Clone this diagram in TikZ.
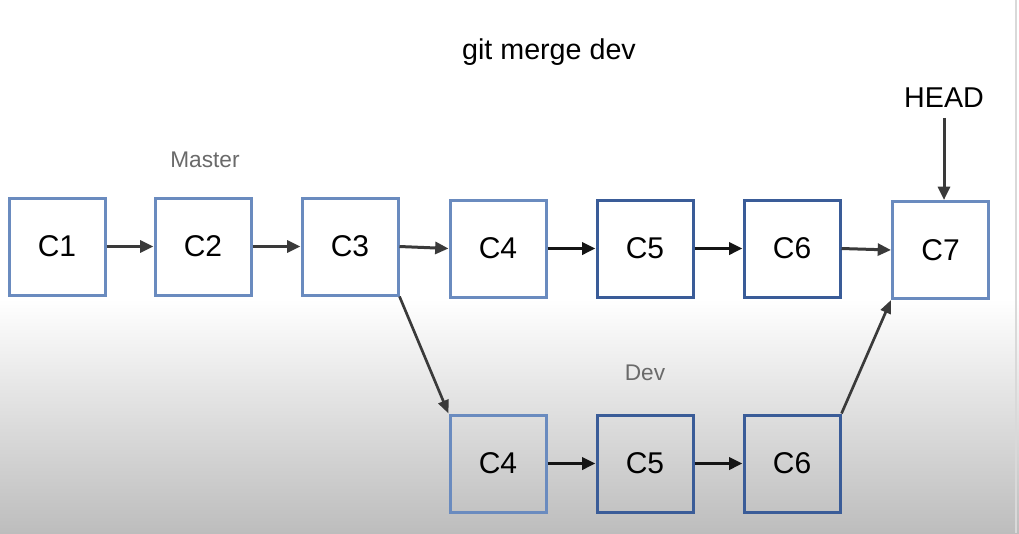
\documentclass[tikz,border=0pt]{standalone}
\usepackage{fontspec}
\setmainfont{Liberation Sans}
\usetikzlibrary{arrows.meta}
\definecolor{boxlight}{HTML}{6A8BBF}
\definecolor{boxdark}{HTML}{3A5C98}
\definecolor{arrgrey}{HTML}{3A3A3A}
\definecolor{arrdark}{HTML}{151515}
\definecolor{bgbot}{HTML}{BDBDBD}
\definecolor{labelgrey}{HTML}{6A6A6A}
\tikzset{
  commit/.style={draw, line width=2.25pt, minimum width=72pt, minimum height=72.75pt, inner sep=0pt, font=\fontsize{22.5pt}{24pt}\selectfont},
  lightc/.style={commit, draw=boxlight},
  darkc/.style={commit, draw=boxdark},
  link/.style={draw=arrgrey, line width=2.25pt, -{Triangle[length=10pt,width=9pt]}},
  linkdark/.style={draw=arrdark, line width=2.6pt, -{Triangle[length=10pt,width=9pt]}},
  diag/.style={draw=arrgrey, line width=2pt, -{Triangle[length=10pt,width=8pt]}},
  branch/.style={text=labelgrey, font=\fontsize{17pt}{20pt}\selectfont},
  title/.style={font=\fontsize{21.5pt}{24pt}\selectfont}
}
\begin{document}
\begin{tikzpicture}[x=0.75pt, y=-0.75pt]
\useasboundingbox (0,0) rectangle (1019,533);
\fill[white] (0,0) rectangle (1019,300);
\shade[top color=white, bottom color=bgbot] (0,299) rectangle (1019,533);
\draw[color=black!15, line width=1.5pt] (1016,0) -- (1016,533);

\node[title] (title) at (549,52) {git merge dev};
\node[title] (head) at (944,98) {HEAD};
\node[branch] (master) at (205,160) {Master};
\node[branch] (dev) at (645,373) {Dev};

\node[lightc, fill=white] (c1) at (57,246.5) {C1};
\node[lightc, fill=white] (c2) at (203,246.5) {C2};
\node[lightc, fill=white] (c3) at (350,246.5) {C3};
\node[lightc, fill=white] (c4) at (498,248.5) {C4};
\node[darkc, fill=white] (c5) at (645,248.5) {C5};
\node[darkc, fill=white] (c6) at (792,248.5) {C6};
\node[lightc, fill=white] (c7) at (940.5,250) {C7};

\node[lightc] (d4) at (498,463.5) {C4};
\node[darkc] (d5) at (645,463.5) {C5};
\node[darkc] (d6) at (792,463.5) {C6};

\draw[link] (c1) -- (c2);
\draw[link] (c2) -- (c3);
\draw[link] (c3.east) -- (c4.west);
\draw[linkdark] (c4) -- (c5);
\draw[linkdark] (c5) -- (c6);
\draw[link] (c6.east) -- (c7.west);
\coordinate (hs) at ([yshift=-4pt]head.south);
\draw[link] (hs) -- (c7.north -| hs);
\draw[diag] (c3.south east) -- (d4.north west);
\draw[diag] (d6.north east) -- (c7.south west);
\draw[linkdark] (d4) -- (d5);
\draw[linkdark] (d5) -- (d6);
\end{tikzpicture}
\end{document}
